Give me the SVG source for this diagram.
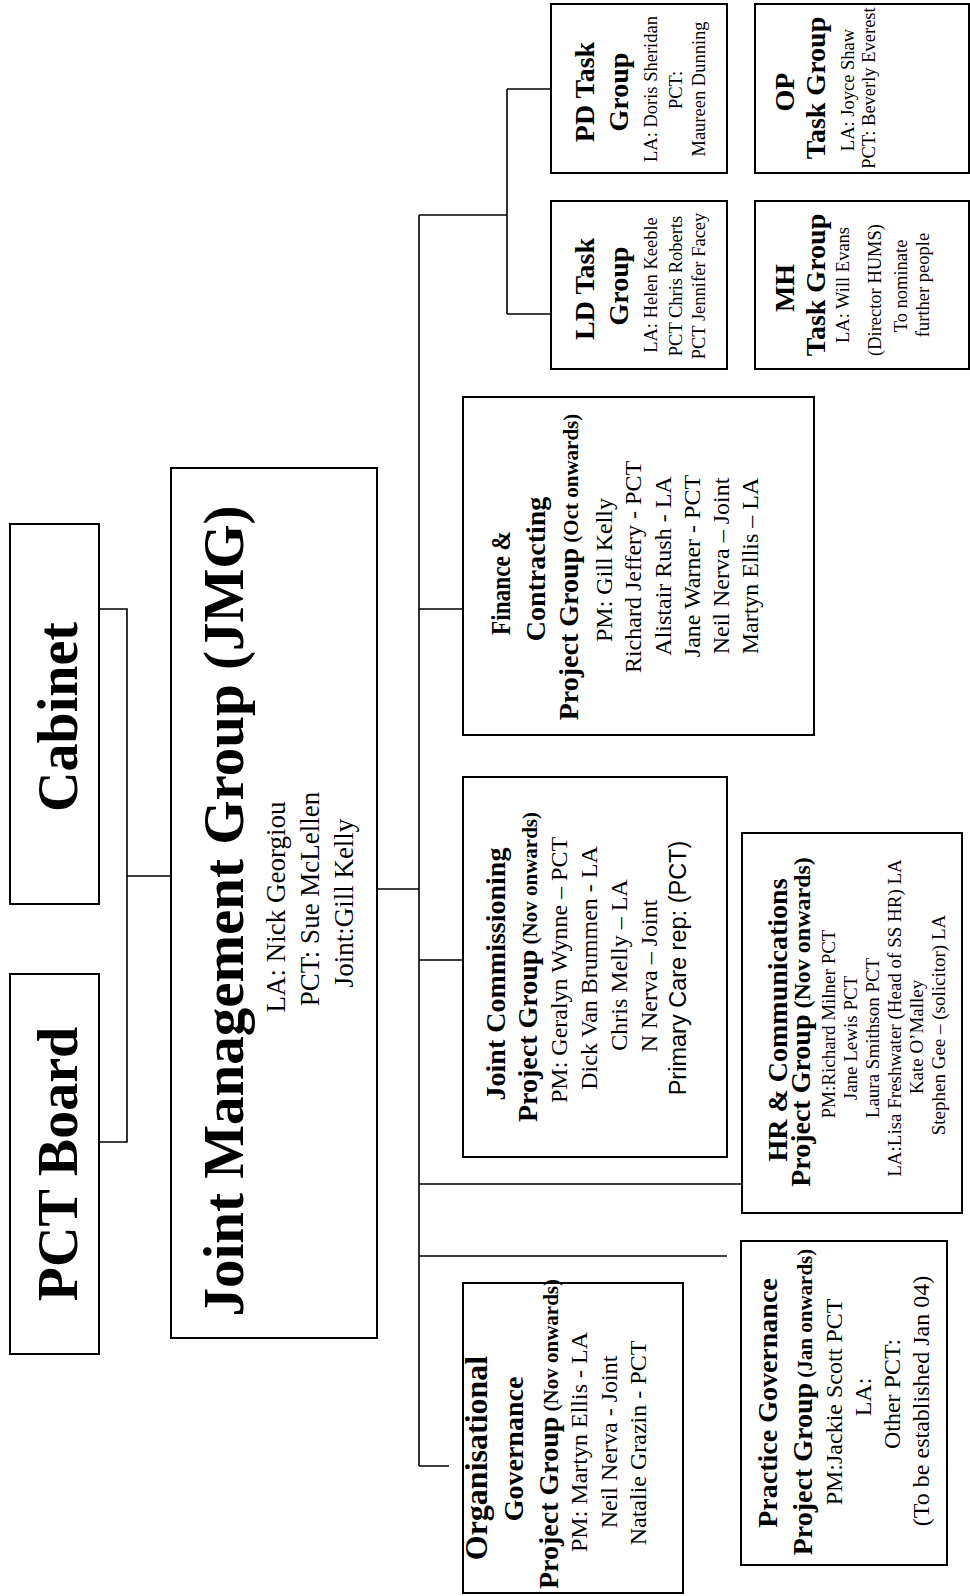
<svg xmlns="http://www.w3.org/2000/svg" width="970" height="1596" viewBox="0 0 970 1596">
<style>
.box{fill:#fff;stroke:#000;stroke-width:2}
.ln{fill:none;stroke:#000;stroke-width:1.6}
text{font-family:"Liberation Serif","Times New Roman",serif;fill:#000;text-anchor:middle}
.b{font-weight:bold}
.h1{font-size:56px;font-weight:bold}
.sub{font-size:27px}
.t28{font-size:28px;font-weight:bold}
.p21{font-size:21px;font-weight:bold}
.m24{font-size:24px}
.s19{font-size:19px}
.s18{font-size:18.5px}
.sans{font-family:"Liberation Sans",Arial,sans-serif}
</style>
<rect width="970" height="1596" fill="#fff"/>
<g id="connectors">
<path class="ln" d="M99,609 H127 V1142 H99 M127,876 H171"/>
<path class="ln" d="M377,889 H419 M419,215 V1466 M419,215 H507 M507,89 V314 M507,89 H551 M507,314 H551"/>
<path class="ln" d="M419,609 H463 M419,960 H463 M419,1184 H742 M419,1256 H727 M419,1466 H449"/>
</g>
<g id="pct-board">
<rect class="box" x="10" y="974" width="89" height="380"/>
<text class="h1" transform="translate(0,1164) rotate(-90)" y="77">PCT Board</text>
</g>
<g id="cabinet">
<rect class="box" x="10" y="524" width="89" height="380"/>
<text class="h1" transform="translate(0,717) rotate(-90)" y="77">Cabinet</text>
</g>
<g id="jmg">
<rect class="box" x="171" y="468" width="206" height="870"/>
<text class="h1" style="font-size:57px" transform="translate(0,911) rotate(-90)" y="243">Joint Management Group (JMG)</text>
<text class="sub" transform="translate(0,907) rotate(-90)" y="285">LA: Nick Georgiou</text>
<text class="sub" transform="translate(0,899) rotate(-90)" y="319">PCT: Sue McLellen</text>
<text class="sub" transform="translate(0,903) rotate(-90)" y="353">Joint:Gill Kelly</text>
</g>
<g id="pd-task">
<rect class="box" x="551" y="4" width="176" height="169"/>
<text class="t28" transform="translate(0,92) rotate(-90)" y="594">PD Task</text>
<text class="t28" transform="translate(0,92) rotate(-90)" y="628">Group</text>
<text class="s18" transform="translate(0,89) rotate(-90)" y="657">LA: Doris Sheridan</text>
<text class="s18" transform="translate(0,90) rotate(-90)" y="682">PCT:</text>
<text class="s18" transform="translate(0,89) rotate(-90)" y="705">Maureen Dunning</text>
</g>
<g id="op-task">
<rect class="box" x="755" y="4" width="214" height="169"/>
<text class="t28" transform="translate(0,92) rotate(-90)" y="794">OP</text>
<text class="t28" transform="translate(0,88) rotate(-90)" y="825">Task Group</text>
<text class="s18" transform="translate(0,90) rotate(-90)" y="854">LA: Joyce Shaw</text>
<text class="s18" transform="translate(0,88) rotate(-90)" y="875">PCT: Beverly Everest</text>
</g>
<g id="ld-task">
<rect class="box" x="551" y="201" width="176" height="168"/>
<text class="t28" transform="translate(0,289) rotate(-90)" y="594">LD Task</text>
<text class="t28" transform="translate(0,286) rotate(-90)" y="628">Group</text>
<text class="s18" transform="translate(0,285) rotate(-90)" y="657">LA: Helen Keeble</text>
<text class="s18" transform="translate(0,286) rotate(-90)" y="682">PCT Chris Roberts</text>
<text class="s18" transform="translate(0,286) rotate(-90)" y="705">PCT Jennifer Facey</text>
</g>
<g id="mh-task">
<rect class="box" x="755" y="201" width="214" height="168"/>
<text class="t28" transform="translate(0,288) rotate(-90)" y="794">MH</text>
<text class="t28" transform="translate(0,285) rotate(-90)" y="825">Task Group</text>
<text class="s18" transform="translate(0,285) rotate(-90)" y="849">LA: Will Evans</text>
<text class="s18" transform="translate(0,290) rotate(-90)" y="881">(Director HUMS)</text>
<text class="s18" transform="translate(0,286) rotate(-90)" y="907">To nominate</text>
<text class="s18" transform="translate(0,285) rotate(-90)" y="929">further people</text>
</g>
<g id="finance">
<rect class="box" x="463" y="397" width="351" height="338"/>
<text class="t28" transform="translate(0,583) rotate(-90)" y="510" textLength="104" lengthAdjust="spacingAndGlyphs">Finance &amp;</text>
<text class="t28" transform="translate(0,569) rotate(-90)" y="545">Contracting</text>
<text class="t28" transform="translate(0,567) rotate(-90)" y="578">Project Group<tspan class="p21"> (Oct onwards)</tspan></text>
<text class="m24" transform="translate(0,570) rotate(-90)" y="612">PM: Gill Kelly</text>
<text class="m24" transform="translate(0,567) rotate(-90)" y="641">Richard Jeffery - PCT</text>
<text class="m24" transform="translate(0,566) rotate(-90)" y="671">Alistair Rush - LA</text>
<text class="m24" transform="translate(0,566) rotate(-90)" y="700">Jane Warner - PCT</text>
<text class="m24" transform="translate(0,566) rotate(-90)" y="729">Neil Nerva – Joint</text>
<text class="m24" transform="translate(0,566) rotate(-90)" y="758">Martyn Ellis – LA</text>
</g>
<g id="joint-commissioning">
<rect class="box" x="463" y="777" width="264" height="380"/>
<text class="t28" transform="translate(0,974) rotate(-90)" y="505">Joint Commissioning</text>
<text class="t28" transform="translate(0,967) rotate(-90)" y="537">Project Group<tspan class="p21"> (Nov onwards)</tspan></text>
<text class="m24" transform="translate(0,970) rotate(-90)" y="567">PM: Geralyn Wynne – PCT</text>
<text class="m24" transform="translate(0,968) rotate(-90)" y="597">Dick Van Brummen - LA</text>
<text class="m24" transform="translate(0,965) rotate(-90)" y="627">Chris Melly – LA</text>
<text class="m24" transform="translate(0,976) rotate(-90)" y="657">N Nerva – Joint</text>
<text class="sans" style="font-size:23.5px" transform="translate(0,968) rotate(-90)" y="686">Primary Care rep: (PCT)</text>
</g>
<g id="hr-communications">
<rect class="box" x="742" y="833" width="220" height="380"/>
<text class="t28" transform="translate(0,1020) rotate(-90)" y="787">HR &amp; Communications</text>
<text class="t28" transform="translate(0,1022) rotate(-90)" y="810">Project Group<tspan class="b" style="font-size:24px"> (Nov onwards)</tspan></text>
<text class="s19" transform="translate(0,1024) rotate(-90)" y="835">PM:Richard Milner PCT</text>
<text class="s19" transform="translate(0,1038) rotate(-90)" y="857">Jane Lewis PCT</text>
<text class="s19" transform="translate(0,1038) rotate(-90)" y="879">Laura Smithson PCT</text>
<text class="s19" transform="translate(0,1018) rotate(-90)" y="901">LA:Lisa Freshwater (Head of SS HR) LA</text>
<text class="s19" transform="translate(0,1037) rotate(-90)" y="923">Kate O’Malley</text>
<text class="s19" transform="translate(0,1025) rotate(-90)" y="945">Stephen Gee – (solicitor) LA</text>
</g>
<g id="organisational-governance">
<rect class="box" x="463" y="1283" width="220" height="310"/>
<text class="b" style="font-size:32px" transform="translate(0,1458) rotate(-90)" y="487">Organisational</text>
<text class="t28" transform="translate(0,1449) rotate(-90)" y="523">Governance</text>
<text class="t28" transform="translate(0,1434) rotate(-90)" y="558">Project Group<tspan class="p21"> (Nov onwards)</tspan></text>
<text class="m24" transform="translate(0,1442) rotate(-90)" y="587">PM: Martyn Ellis - LA</text>
<text class="m24" transform="translate(0,1442) rotate(-90)" y="617">Neil Nerva - Joint</text>
<text class="m24" transform="translate(0,1443) rotate(-90)" y="646">Natalie Grazin - PCT</text>
</g>
<g id="practice-governance">
<rect class="box" x="741" y="1241" width="206" height="324"/>
<text class="t28" transform="translate(0,1403) rotate(-90)" y="777">Practice Governance</text>
<text class="t28" transform="translate(0,1402) rotate(-90)" y="812">Project Group<tspan class="p21"> (Jan onwards)</tspan></text>
<text class="m24" transform="translate(0,1402) rotate(-90)" y="842">PM:Jackie Scott PCT</text>
<text class="m24" transform="translate(0,1397) rotate(-90)" y="871">LA:</text>
<text class="m24" transform="translate(0,1394) rotate(-90)" y="900">Other PCT:</text>
<text class="m24" transform="translate(0,1401) rotate(-90)" y="929">(To be established Jan 04)</text>
</g>
</svg>
